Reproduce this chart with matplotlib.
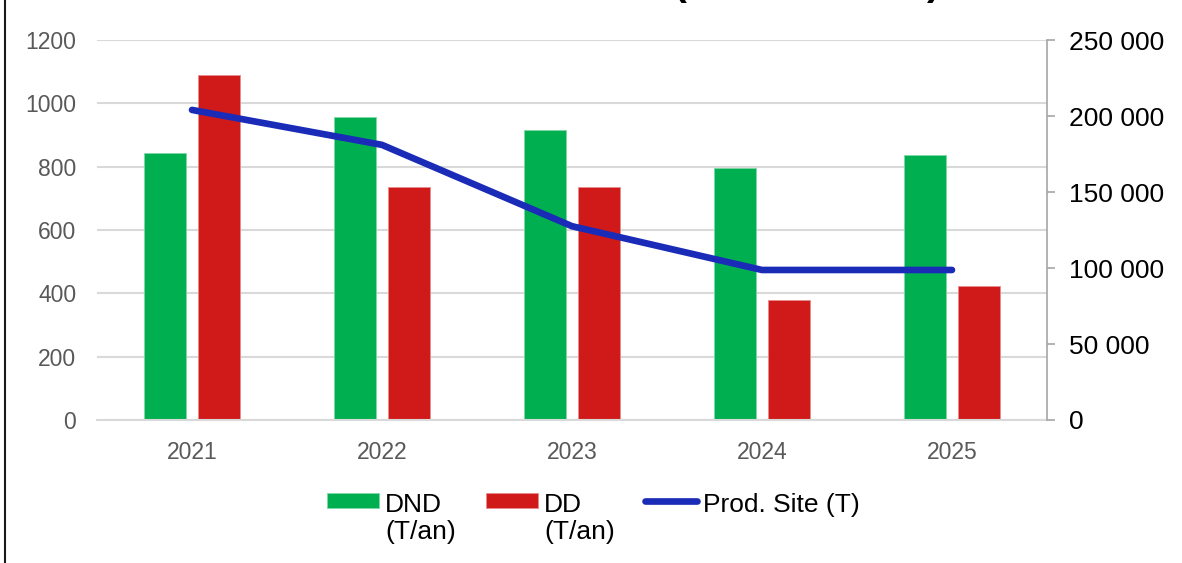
import matplotlib
matplotlib.use('Agg')
import matplotlib.pyplot as plt
from matplotlib.lines import Line2D
from matplotlib.ticker import FuncFormatter
import numpy as np

plt.rcParams['font.family'] = ['Liberation Sans', 'DejaVu Sans']

YEARS     = ['2021', '2022', '2023', '2024', '2025']
DND       = [843, 957, 916, 796, 837]
DD        = [1090, 736, 736, 379, 423]
PROD_SITE = [204000, 181000, 127500, 98700, 98700]

LABELS = ['DND\n(T/an)', 'DD\n(T/an)', 'Prod. Site (T)']

GREEN = '#00b050'
RED   = '#d01a1a'
BLUE  = '#1a2bb8'
GRID  = '#d9d9d9'

W, H = 1182, 563
fig = plt.figure(figsize=(W / 100, H / 100), dpi=100)
ax = fig.add_axes([97 / W, (H - 420) / H, 950 / W, 380 / H])

x = np.arange(len(YEARS))
bw = 0.226
off = 0.142
b1 = ax.bar(x - off, DND, bw, color=GREEN, edgecolor='#7fd7a7', linewidth=0.6, zorder=2)
b2 = ax.bar(x + off, DD, bw, color=RED, edgecolor='#e88c8c', linewidth=0.6, zorder=2)

ax.set_xlim(-0.5, len(YEARS) - 0.5)
ax.set_ylim(0, 1200)
ax.set_yticks(range(0, 1201, 200))
ax.set_xticks(x)
ax.set_xticklabels(YEARS)
ax.yaxis.grid(True, color=GRID, linewidth=1.5, zorder=0)
ax.set_axisbelow(True)
for s in ['top', 'left', 'right']:
    ax.spines[s].set_visible(False)
ax.spines['bottom'].set_color(GRID)
ax.spines['bottom'].set_linewidth(1.5)
ax.tick_params(axis='y', length=0, labelsize=16.5, colors='#595959', pad=15)
ax.tick_params(axis='x', length=0, labelsize=16.5, colors='#595959', pad=15)

ax2 = ax.twinx()
ln, = ax2.plot(x, PROD_SITE, color=BLUE, linewidth=4.8, solid_capstyle='round',
               solid_joinstyle='round', zorder=3)
ax2.set_ylim(0, 250000)
ax2.set_yticks(range(0, 250001, 50000))
ax2.yaxis.set_major_formatter(FuncFormatter(lambda v, p: f'{int(v):,}'.replace(',', ' ')))
for s in ['top', 'left', 'bottom']:
    ax2.spines[s].set_visible(False)
ax2.spines['right'].set_color('#a6a6a6')
ax2.spines['right'].set_linewidth(1.2)
ax2.tick_params(axis='y', direction='out', length=6, width=1.2, color='#a6a6a6',
                labelsize=19, labelcolor='black', pad=10)

handles = [b1, b2, Line2D([], [], color=BLUE, linewidth=4.8, solid_capstyle='round')]
leg = fig.legend(handles, LABELS, loc='upper center', bbox_to_anchor=(0.502, 0.125),
                 ncol=3, frameon=False, fontsize=19, handlelength=1.97,
                 handleheight=0.53, handletextpad=0.22, columnspacing=1.15,
                 borderpad=0, borderaxespad=0)
for t in leg.get_texts():
    t.set_linespacing(1.2)
leg._legend_handle_box.align = 'top'
for col in leg._legend_handle_box.get_children():
    for hp in col.get_children():
        hp.align = 'top'

# title cut off at the top of the image
fig.text(673 / W, 1 + 5 / H, '(', fontsize=28, fontweight='bold', va='baseline')
fig.text(927 / W, 1 + 5 / H, ')', fontsize=28, fontweight='bold', va='baseline')

# left frame border
fig.add_artist(Line2D([5 / W, 5 / W], [0, 1], transform=fig.transFigure,
                      color='#1a1a1a', linewidth=1.5))

fig.savefig('out.png', dpi=100)
